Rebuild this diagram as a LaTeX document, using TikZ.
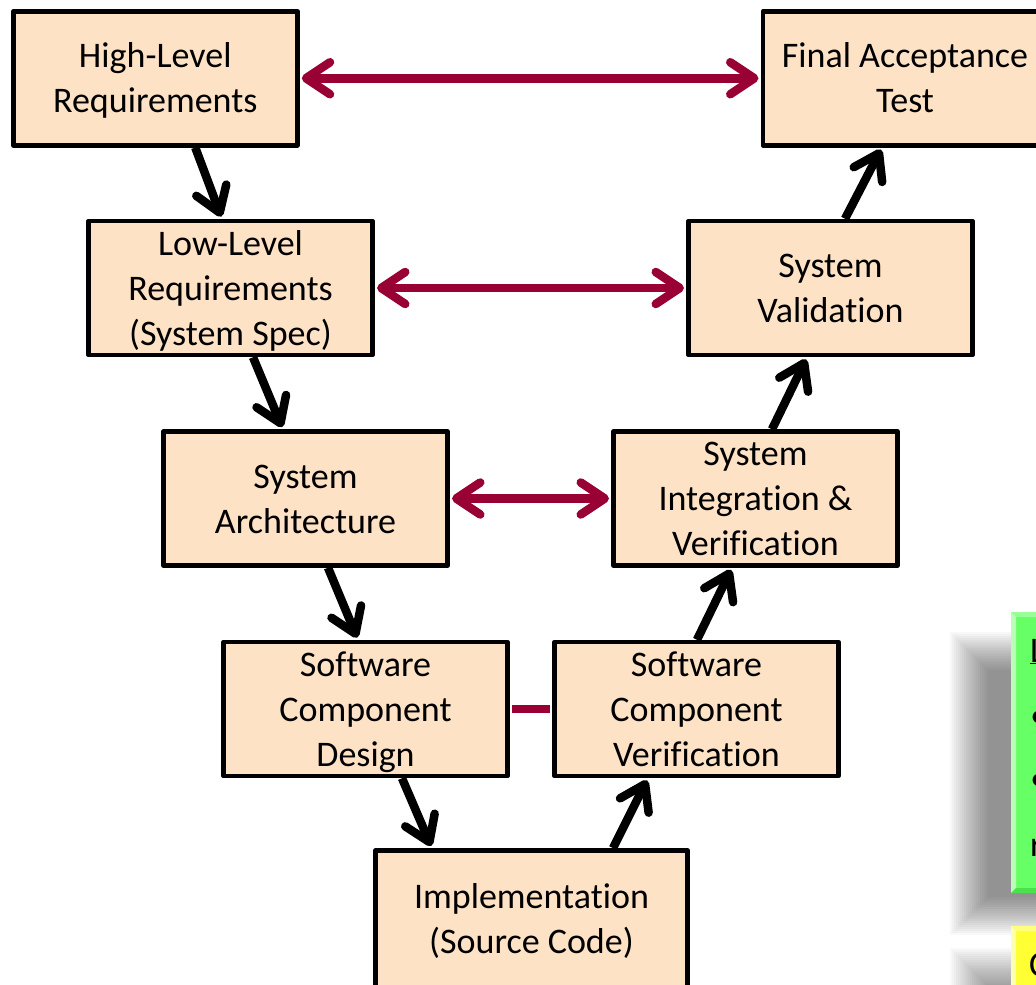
\documentclass[tikz,border=0pt]{standalone}
\usepackage{fontspec}
\setmainfont{Carlito}[Ligatures=NoCommon]
\usetikzlibrary{arrows.meta}
\definecolor{boxfill}{HTML}{FDE2C6}
\definecolor{maroon}{HTML}{990033}
\definecolor{greenbox}{HTML}{66FF66}
\definecolor{greenlight}{HTML}{B8FFB8}
\definecolor{greendark}{HTML}{4CE04C}
\definecolor{yellowbox}{HTML}{FFFF33}
\definecolor{yellowlight}{HTML}{FFFFB0}
\begin{document}
\begin{tikzpicture}[x=1pt,y=-1pt,
  box/.style={draw=black, line width=4.5pt, line join=round, fill=boxfill,
    minimum width=284pt, minimum height=134pt, inner sep=0pt,
    text width=278pt, align=flush center, font=\fontsize{36}{45}\selectfont,
    text height=24pt},
  two/.style={text depth=45pt},
  three/.style={text depth=90pt},
  flow/.style={line width=8.5pt, black, shorten >=2.25pt,
    -{Straight Barb[length=24pt,width=32pt,round]}},
  link/.style={line width=8.5pt, maroon, shorten >=2.25pt, shorten <=2.25pt,
    {Straight Barb[length=24pt,width=32pt,round]}-{Straight Barb[length=24pt,width=32pt,round]}},
  plainlink/.style={line width=8pt, maroon, shorten >=2.25pt, shorten <=2.25pt},
  frag/.style={anchor=base west, inner sep=0pt, font=\fontsize{36}{45}\selectfont}]
\useasboundingbox (0,0) rectangle (1036,985);
\begin{scope}
\clip (0,0) rectangle (1036,985);
% side panels (cut off at the right edge)
\foreach \i in {0,...,19}
  \fill[black,opacity=0.026] (950+2*\i,632+2*\i) rectangle (1100,935-2*\i);
\foreach \i in {0,...,19}
  \fill[black,opacity=0.022] (950+2*\i,948+2*\i) rectangle (1100,1040);
\fill[greenbox] (1011,612) rectangle (1045,893);
\fill[greenlight] (1011,612) -- (1016,617) -- (1016,888) -- (1011,893) -- cycle;
\fill[greenlight!60!greenbox] (1011,612) -- (1045,612) -- (1045,617) -- (1016,617) -- cycle;
\fill[greendark] (1011,893) -- (1016,888) -- (1045,888) -- (1045,893) -- cycle;
\fill[yellowbox] (1011,926) rectangle (1045,1000);
\fill[yellowlight] (1011,926) -- (1016,931) -- (1016,1000) -- (1011,1000) -- cycle;
\fill[yellowlight!60!yellowbox] (1011,926) -- (1045,926) -- (1045,931) -- (1016,931) -- cycle;
\node[frag] (g1) at (1030,662) {\underline{L}};
\node[frag] (g2) at (1030,727) {•};
\node[frag] (g3) at (1030,790) {•};
\node[frag] (g4) at (1030,856) {r};
\node[frag] (g5) at (1029,976) {C};
% boxes
\node[box,two] (hl) at (155.25,78.25) {High-Level\\Requirements};
\node[box,two] (fa) at (905,78.25) {Final Acceptance\\Test};
\node[box,three] (ll) at (230.5,288) {Low-Level\\Requirements\\(System Spec)};
\node[box,two] (sv) at (830.5,288) {System\\Validation};
\node[box,two] (sa) at (305.5,498.5) {System\\Architecture};
\node[box,three] (si) at (755.5,498.5) {System\\Integration \&\\Verification};
\node[box,three] (scd) at (365.5,709) {Software\\Component\\Design};
\node[box,three] (scv) at (696.5,709) {Software\\Component\\Verification};
\node[box,two,minimum width=312pt,minimum height=138pt,text width=300pt] (impl) at (531.5,919.3) {Implementation\\(Source Code)};
% flow arrows
\draw[flow] ([xshift=40pt]hl.south) -- ([xshift=-8.5pt]ll.north);
\draw[flow] ([xshift=22.5pt]ll.south) -- ([xshift=-22.5pt]sa.north);
\draw[flow] ([xshift=22.5pt]sa.south) -- ([xshift=-7.5pt]scd.north);
\draw[flow] ([xshift=36.5pt]scd.south) -- ([xshift=-99.5pt]impl.north);
\draw[flow] ([xshift=81.5pt]impl.north) -- ([xshift=-48.5pt]scv.south);
\draw[flow] ([xshift=0.5pt]scv.north) -- ([xshift=-23.5pt]si.south);
\draw[flow] ([xshift=16.5pt]si.north) -- ([xshift=-23.5pt]sv.south);
\draw[flow] ([xshift=14.5pt]sv.north) -- ([xshift=-23pt]fa.south);
% verification links
\draw[link] (hl.east) -- (fa.west);
\draw[link] (ll.east) -- (sv.west);
\draw[link] (sa.east) -- (si.west);
\draw[plainlink] (scd.east) -- (scv.west);
\end{scope}
\end{tikzpicture}
\end{document}
